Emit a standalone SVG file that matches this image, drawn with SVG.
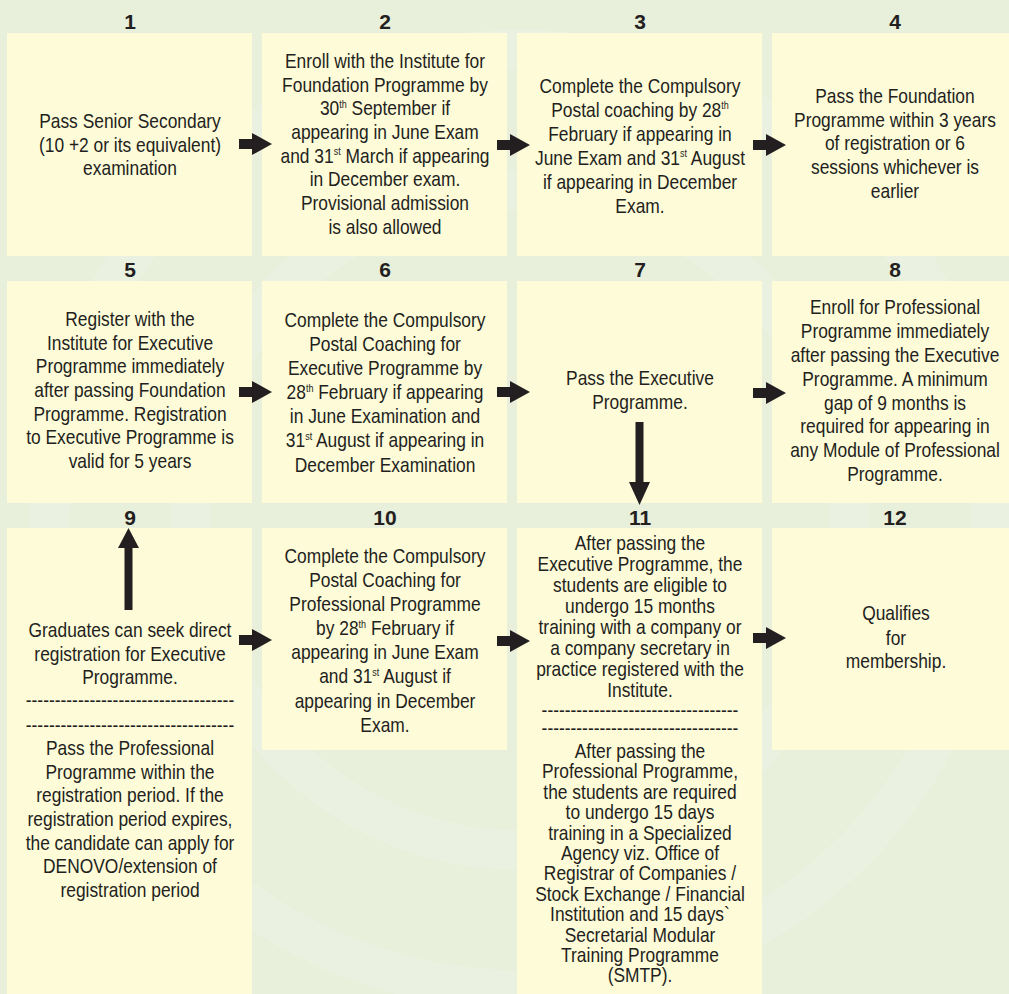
<svg xmlns="http://www.w3.org/2000/svg" width="1009" height="994" viewBox="0 0 1009 994">
<defs>
<style>
.bg{fill:#e8efdb}
.box{fill:#fefbd9}
.num{font-family:"Liberation Sans",Arial,sans-serif;font-weight:bold;font-size:21px;fill:#231f20;text-anchor:middle}
.t{font-family:"Liberation Sans",Arial,sans-serif;font-size:17.4px;fill:#231f20;text-anchor:middle}
.sup{font-size:9px}
.arr{fill:#231f20}
.wm{fill:none;stroke:#edf2e2;stroke-width:40;opacity:0.7}
</style>
</defs>
<rect class="bg" x="0" y="0" width="1009" height="994"/>
<circle class="wm" cx="520" cy="520" r="470"/>
<circle class="wm" cx="520" cy="520" r="330"/>

<g id="node1">
<rect class="box" x="7" y="33" width="245" height="223"/>
<text class="num" x="130" y="29">1</text>
<g transform="scale(1,1.125)">
<text class="t" x="130" y="113.78">Pass Senior Secondary</text>
<text class="t" x="130" y="135.11">(10 +2 or its equivalent)</text>
<text class="t" x="130" y="155.56">examination</text>
</g>
</g>

<g id="node2">
<rect class="box" x="262" y="33" width="245" height="223"/>
<text class="num" x="385" y="29">2</text>
<g transform="scale(1,1.125)">
<text class="t" x="385" y="60.44">Enroll with the Institute for</text>
<text class="t" x="385" y="81.51">Foundation Programme by</text>
<text class="t" x="385" y="102.58">30<tspan class="sup" dy="-6.5">th</tspan><tspan dy="6.5"> September if</tspan></text>
<text class="t" x="385" y="123.64">appearing in June Exam</text>
<text class="t" x="385" y="144.71">and 31<tspan class="sup" dy="-6.5">st</tspan><tspan dy="6.5"> March if appearing</tspan></text>
<text class="t" x="385" y="165.78">in December exam.</text>
<text class="t" x="385" y="186.84">Provisional admission</text>
<text class="t" x="385" y="208">is also allowed</text>
</g>
</g>

<g id="node3">
<rect class="box" x="517" y="33" width="245" height="223"/>
<text class="num" x="640" y="29">3</text>
<g transform="scale(1,1.125)">
<text class="t" x="640" y="82.4">Complete the Compulsory</text>
<text class="t" x="640" y="103.73">Postal coaching by 28<tspan class="sup" dy="-6.5">th</tspan></text>
<text class="t" x="640" y="125.07">February if appearing in</text>
<text class="t" x="640" y="146.4">June Exam and 31<tspan class="sup" dy="-6.5">st</tspan><tspan dy="6.5"> August</tspan></text>
<text class="t" x="640" y="167.73">if appearing in December</text>
<text class="t" x="640" y="189.07">Exam.</text>
</g>
</g>

<g id="node4">
<rect class="box" x="772" y="33" width="246" height="223"/>
<text class="num" x="895" y="29">4</text>
<g transform="scale(1,1.125)">
<text class="t" x="895" y="91.56">Pass the Foundation</text>
<text class="t" x="895" y="112.89">Programme within 3 years</text>
<text class="t" x="895" y="133.78">of registration or 6</text>
<text class="t" x="895" y="155.11">sessions whichever is</text>
<text class="t" x="895" y="176">earlier</text>
</g>
</g>

<g id="node5">
<rect class="box" x="7" y="281" width="245" height="222"/>
<text class="num" x="130" y="277">5</text>
<g transform="scale(1,1.125)">
<text class="t" x="130" y="289.78">Register with the</text>
<text class="t" x="130" y="310.84">Institute for Executive</text>
<text class="t" x="130" y="331.91">Programme immediately</text>
<text class="t" x="130" y="352.98">after passing Foundation</text>
<text class="t" x="130" y="374.04">Programme. Registration</text>
<text class="t" x="130" y="395.11">to Executive Programme is</text>
<text class="t" x="130" y="416.18">valid for 5 years</text>
</g>
</g>

<g id="node6">
<rect class="box" x="262" y="281" width="245" height="222"/>
<text class="num" x="385" y="277">6</text>
<g transform="scale(1,1.125)">
<text class="t" x="385" y="290.67">Complete the Compulsory</text>
<text class="t" x="385" y="312">Postal Coaching for</text>
<text class="t" x="385" y="333.33">Executive Programme by</text>
<text class="t" x="385" y="355.11">28<tspan class="sup" dy="-6.5">th</tspan><tspan dy="6.5"> February if appearing</tspan></text>
<text class="t" x="385" y="376.44">in June Examination and</text>
<text class="t" x="385" y="397.78">31<tspan class="sup" dy="-6.5">st</tspan><tspan dy="6.5"> August if appearing in</tspan></text>
<text class="t" x="385" y="419.56">December Examination</text>
</g>
</g>

<g id="node7">
<rect class="box" x="517" y="281" width="245" height="222"/>
<text class="num" x="640" y="277">7</text>
<g transform="scale(1,1.125)">
<text class="t" x="640" y="342.22">Pass the Executive</text>
<text class="t" x="640" y="363.56">Programme.</text>
</g>
</g>

<g id="node8">
<rect class="box" x="772" y="281" width="246" height="222"/>
<text class="num" x="895" y="277">8</text>
<g transform="scale(1,1.125)">
<text class="t" x="895" y="279.11">Enroll for Professional</text>
<text class="t" x="895" y="300.36">Programme immediately</text>
<text class="t" x="895" y="321.6">after passing the Executive</text>
<text class="t" x="895" y="342.84">Programme. A minimum</text>
<text class="t" x="895" y="364.09">gap of 9 months is</text>
<text class="t" x="895" y="385.33">required for appearing in</text>
<text class="t" x="895" y="406.58">any Module of Professional</text>
<text class="t" x="895" y="427.82">Programme.</text>
</g>
</g>

<g id="node9">
<rect class="box" x="7" y="528" width="245" height="466"/>
<text class="num" x="130" y="525">9</text>
<g transform="scale(1,1.125)">
<text class="t" x="130" y="566.22">Graduates can seek direct</text>
<text class="t" x="130" y="587.29">registration for Executive</text>
<text class="t" x="130" y="608.36">Programme.</text>
<text class="t" x="130" y="628.44">------------------------------------</text>
<text class="t" x="130" y="650.67">------------------------------------</text>
<text class="t" x="130" y="671.11">Pass the Professional</text>
<text class="t" x="130" y="692.18">Programme within the</text>
<text class="t" x="130" y="713.24">registration period. If the</text>
<text class="t" x="130" y="734.31">registration period expires,</text>
<text class="t" x="130" y="755.38">the candidate can apply for</text>
<text class="t" x="130" y="776.44">DENOVO/extension of</text>
<text class="t" x="130" y="797.51">registration period</text>
</g>
</g>

<g id="node10">
<rect class="box" x="262" y="528" width="245" height="222"/>
<text class="num" x="385" y="525">10</text>
<g transform="scale(1,1.125)">
<text class="t" x="385" y="500.44">Complete the Compulsory</text>
<text class="t" x="385" y="521.87">Postal Coaching for</text>
<text class="t" x="385" y="543.29">Professional Programme</text>
<text class="t" x="385" y="564.71">by 28<tspan class="sup" dy="-6.5">th</tspan><tspan dy="6.5"> February if</tspan></text>
<text class="t" x="385" y="586.13">appearing in June Exam</text>
<text class="t" x="385" y="607.56">and 31<tspan class="sup" dy="-6.5">st</tspan><tspan dy="6.5"> August if</tspan></text>
<text class="t" x="385" y="628.98">appearing in December</text>
<text class="t" x="385" y="650.4">Exam.</text>
</g>
</g>

<g id="node11">
<rect class="box" x="517" y="528" width="245" height="466"/>
<text class="num" x="640" y="525">11</text>
<g transform="scale(1,1.125)">
<text class="t" x="640" y="488.89">After passing the</text>
<text class="t" x="640" y="507.56">Executive Programme, the</text>
<text class="t" x="640" y="526.22">students are eligible to</text>
<text class="t" x="640" y="544.89">undergo 15 months</text>
<text class="t" x="640" y="563.56">training with a company or</text>
<text class="t" x="640" y="582.22">a company secretary in</text>
<text class="t" x="640" y="600.89">practice registered with the</text>
<text class="t" x="640" y="619.56">Institute.</text>
<text class="t" x="640" y="637.33">----------------------------------</text>
<text class="t" x="640" y="653.33">----------------------------------</text>
<text class="t" x="640" y="673.78">After passing the</text>
<text class="t" x="640" y="691.91">Professional Programme,</text>
<text class="t" x="640" y="710.04">the students are required</text>
<text class="t" x="640" y="728.18">to undergo 15 days</text>
<text class="t" x="640" y="746.31">training in a Specialized</text>
<text class="t" x="640" y="764.44">Agency viz. Office of</text>
<text class="t" x="640" y="782.58">Registrar of Companies /</text>
<text class="t" x="640" y="800.71">Stock Exchange / Financial</text>
<text class="t" x="640" y="818.84">Institution and 15 days`</text>
<text class="t" x="640" y="836.98">Secretarial Modular</text>
<text class="t" x="640" y="855.11">Training Programme</text>
<text class="t" x="640" y="873.24">(SMTP).</text>
</g>
</g>

<g id="node12">
<rect class="box" x="772" y="528" width="246" height="222"/>
<text class="num" x="895" y="525">12</text>
<g transform="scale(1,1.125)">
<text class="t" x="896" y="551.11">Qualifies</text>
<text class="t" x="896" y="573.33">for</text>
<text class="t" x="896" y="593.78">membership.</text>
</g>
</g>

<g id="connectors">
<path class="arr" d="M239 139 H252 V133 L272 144 L252 155 V149 H239 Z"/>
<path class="arr" d="M497 140 H510 V134 L530 145 L510 156 V150 H497 Z"/>
<path class="arr" d="M753 140 H766 V134 L786 145 L766 156 V150 H753 Z"/>
<path class="arr" d="M239 387 H252 V381 L272 392 L252 403 V397 H239 Z"/>
<path class="arr" d="M497 387 H510 V381 L530 392 L510 403 V397 H497 Z"/>
<path class="arr" d="M753 388 H766 V382 L786 393 L766 404 V398 H753 Z"/>
<path class="arr" d="M239 635 H252 V629 L272 640 L252 651 V645 H239 Z"/>
<path class="arr" d="M497 636 H510 V630 L530 641 L510 652 V646 H497 Z"/>
<path class="arr" d="M753 633 H766 V627 L786 638 L766 649 V643 H753 Z"/>
<path class="arr" d="M635.5 422 H643.5 V482 H650 L639.5 505 L629 482 H635.5 Z"/>
<path class="arr" d="M124.5 610 H132.5 V548 H139 L128.5 528 L118 548 H124.5 Z"/>
</g>
</svg>
